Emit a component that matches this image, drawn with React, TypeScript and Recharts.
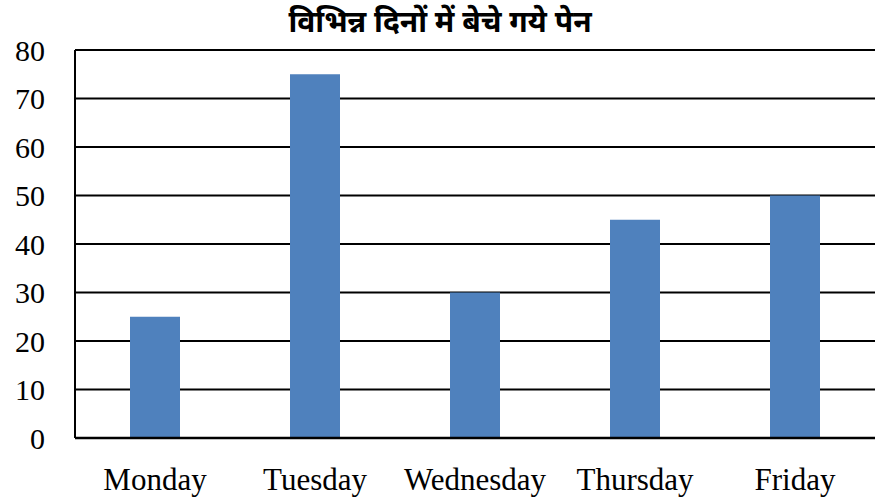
import React from "react";
import { BarChart, Bar, XAxis, YAxis, CartesianGrid } from "recharts";

const title = "विभिन्न दिनों में बेचे गये पेन";
const days = ["Monday", "Tuesday", "Wednesday", "Thursday", "Friday"];
const pens = [25, 75, 30, 45, 50];
const yTicks = [0, 10, 20, 30, 40, 50, 60, 70, 80];

const data = days.map((d, i) => ({ day: d, pens: pens[i] }));

export default function App() {
  return (
    <div style={{ position: "absolute", left: 0, top: 0, width: 875, height: 504, background: "#fff" }}>
      <div
        style={{
          position: "absolute",
          left: 0,
          top: 1,
          width: 880,
          textAlign: "center",
          fontFamily: "'Noto Sans', sans-serif",
          fontWeight: "bold",
          fontSize: 30,
          lineHeight: "40px",
          color: "#000",
        }}
      >
        {title}
      </div>
      <BarChart
        width={875}
        height={504}
        data={data}
        margin={{ top: 50, right: 0, bottom: 36, left: 0 }}
      >
        <CartesianGrid vertical={false} stroke="#000" strokeWidth={2} />
        <XAxis
          dataKey="day"
          height={30}
          axisLine={{ stroke: "#000", strokeWidth: 2.5 }}
          tickLine={false}
          tickSize={0}
          tickMargin={30}
          tick={{ fill: "#000", fontSize: 31, fontFamily: "'Liberation Serif', serif" }}
        />
        <YAxis
          width={75}
          domain={[0, 80]}
          ticks={yTicks}
          axisLine={{ stroke: "#000", strokeWidth: 2 }}
          tickLine={false}
          tickSize={0}
          tickMargin={30}
          tick={{ fill: "#000", fontSize: 30, fontFamily: "'Liberation Serif', serif" }}
        />
        <Bar dataKey="pens" fill="#4F81BD" barSize={50} isAnimationActive={false} />
      </BarChart>
    </div>
  );
}
